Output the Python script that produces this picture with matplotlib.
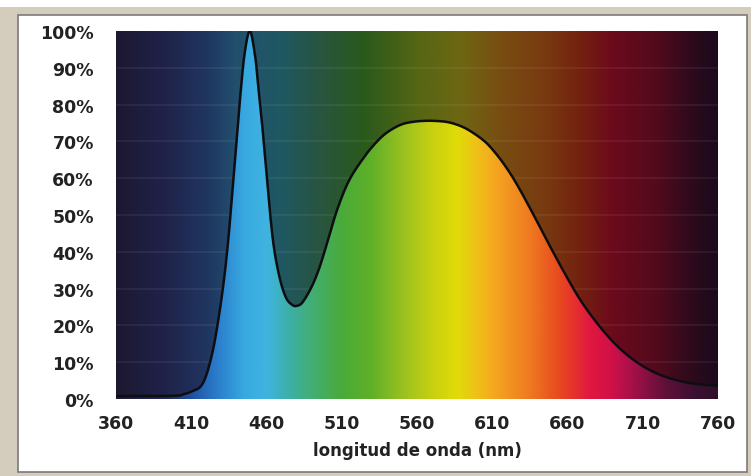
import numpy as np
import matplotlib.pyplot as plt
from matplotlib.colors import to_rgb
from matplotlib.patches import Rectangle

# relative spectral power of a white LED (percent of peak)
wavelength = [360, 380, 400, 405, 410, 416, 420, 424, 427, 430, 432.5, 435, 437, 440,
              442.5, 445.5, 449, 452.5, 454.5, 457, 459, 462, 465, 469, 473, 477, 480,
              484, 490, 495, 500, 507, 515, 525, 533, 540, 549, 557, 566, 575, 582, 590,
              597, 605, 611, 618, 626, 637, 648, 660, 670, 682, 693, 704, 715, 726, 739,
              750, 760]
intensity = [0.8, 0.8, 0.9, 1.3, 2.0, 3.3, 6.5, 12.5, 19, 27, 35, 45, 55, 69,
             82, 94, 100, 93, 85, 75, 66, 52, 41, 32.5, 27.5, 25.6, 25.3,
             26.3, 30.5, 35.5, 42, 51.5, 59.5, 65.8, 69.8, 72.4, 74.5, 75.3, 75.6, 75.5, 75.1, 74,
             72.4, 70.0, 67.4, 63.7, 58.6, 50.4, 41.8, 32.8, 26.0, 19.4, 14.4, 10.6, 7.8, 5.9, 4.5,
             3.9, 3.6]

x_ticks = [360, 410, 460, 510, 560, 610, 660, 710, 760]
y_ticks = [0, 10, 20, 30, 40, 50, 60, 70, 80, 90, 100]

# spectrum colour stops: muted band behind, vivid band under the curve
dark_stops = [(360, '#1c1830'), (390, '#1f2148'), (420, '#1f3560'), (440, '#22506e'),
              (470, '#1f5862'), (495, '#285540'), (525, '#2a5a1c'), (560, '#556614'),
              (590, '#6e6612'), (615, '#784e12'), (645, '#783a10'), (668, '#74220f'),
              (690, '#6c0a1c'), (720, '#520a1c'), (742, '#2e0a1c'), (760, '#1a0a1c')]
bright_stops = [(360, '#1e1a35'), (395, '#1e2a60'), (410, '#2050a0'), (425, '#2a78c8'),
                (445, '#38a8e0'), (460, '#40b4e0'), (475, '#3cb0a8'), (490, '#42ae74'),
                (510, '#4aaa3a'), (530, '#60b028'), (550, '#98c020'), (570, '#c8d010'),
                (587, '#e0dc08'), (600, '#f0c018'), (615, '#f4a020'), (635, '#ee7a20'),
                (655, '#e84820'), (675, '#e01840'), (690, '#d01048'), (705, '#a01048'),
                (725, '#601038'), (745, '#3a1030'), (760, '#301028')]


def spectrum_strip(stops, n=800):
    nm = np.linspace(360, 760, n)
    pos = [s[0] for s in stops]
    rgb = np.array([to_rgb(s[1]) for s in stops])
    strip = np.stack([np.interp(nm, pos, rgb[:, k]) for k in range(3)], axis=-1)
    return strip[np.newaxis, :, :]


def catmull_rom(xs, ys, per_seg=12):
    # smooth path through the measured points
    p = np.column_stack([xs, ys]).astype(float)
    p = np.vstack([p[0], p, p[-1]])
    out = []
    t = np.linspace(0, 1, per_seg, endpoint=False)[:, None]
    for i in range(1, len(p) - 2):
        p0, p1, p2, p3 = p[i - 1], p[i], p[i + 1], p[i + 2]
        seg = 0.5 * ((2 * p1) + (-p0 + p2) * t + (2 * p0 - 5 * p1 + 4 * p2 - p3) * t ** 2
                     + (-p0 + 3 * p1 - 3 * p2 + p3) * t ** 3)
        out.append(seg)
    out.append(p[-2][None, :])
    out = np.vstack(out)
    return out[:, 0], np.clip(out[:, 1], 0, 100)


fig = plt.figure(figsize=(7.51, 4.77), dpi=100, facecolor='#d4ccbd')
W, H = 751, 477

# white band along the top and the white framed panel
fig.patches.append(Rectangle((0, 1 - 8 / H), 1, 8 / H, transform=fig.transFigure,
                             facecolor='white', edgecolor='none', zorder=-10))
fig.patches.append(Rectangle((18 / W, 1 - 473 / H), (747 - 18) / W, (473 - 16) / H,
                             transform=fig.transFigure, facecolor='white',
                             edgecolor='#7a7a7a', linewidth=1.2, zorder=-10))

ax = fig.add_axes([116 / W, 1 - 400 / H, 602 / W, 368 / H])
ax.set_xlim(360, 760)
ax.set_ylim(0, 100)

ax.imshow(spectrum_strip(dark_stops), extent=[360, 760, 0, 100], aspect='auto',
          interpolation='bilinear', zorder=0)

for y in y_ticks[1:-1]:
    ax.axhline(y, color='white', alpha=0.07, linewidth=1.2, zorder=1)

sx, sy = catmull_rom(wavelength, intensity)

area = ax.fill_between(sx, 0, sy, facecolor='none', edgecolor='none')
vivid = ax.imshow(spectrum_strip(bright_stops), extent=[360, 760, 0, 100], aspect='auto',
                  interpolation='bilinear', zorder=2)
vivid.set_clip_path(area.get_paths()[0], transform=ax.transData)

ax.plot(sx, sy, color='#0e0d12', linewidth=1.8, zorder=3, solid_capstyle='round')

for s in ax.spines.values():
    s.set_visible(False)

ax.set_xticks(x_ticks)
ax.set_yticks(y_ticks)
ax.set_yticklabels([f'{v}%' for v in y_ticks])
ax.tick_params(length=0, labelsize=12.5, labelcolor='#222222')
ax.tick_params(axis='y', pad=16)
ax.tick_params(axis='x', pad=11)
for lab in ax.get_xticklabels() + ax.get_yticklabels():
    lab.set_fontfamily('DejaVu Sans')
    lab.set_fontweight('bold')

ax.set_xlabel('longitud de onda (nm)', fontsize=12, fontweight='bold',
              color='#222222', family='DejaVu Sans', labelpad=6)

fig.savefig('out.png', dpi=100, facecolor=fig.get_facecolor())
